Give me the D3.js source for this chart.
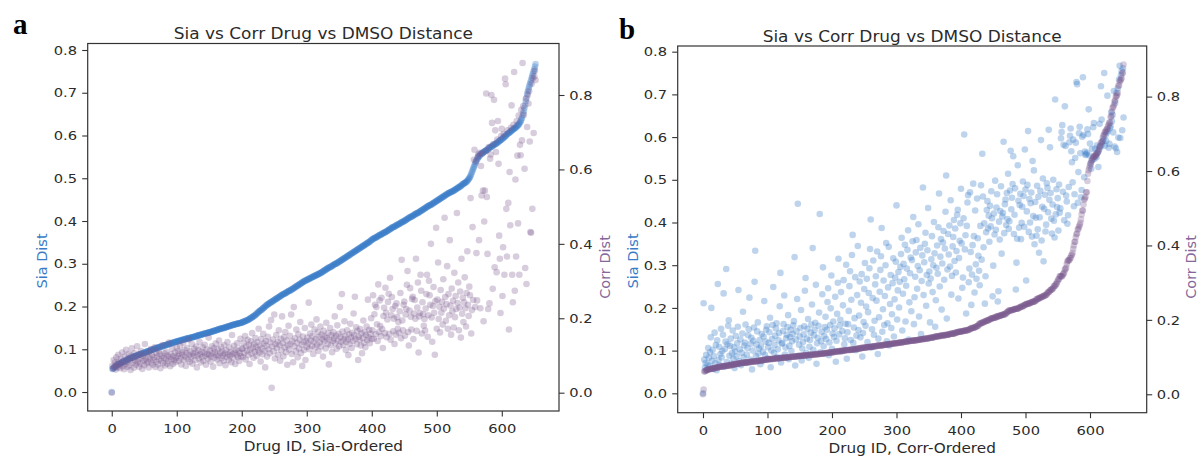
<!DOCTYPE html>
<html>
<head>
<meta charset="utf-8">
<script src="https://cdn.jsdelivr.net/npm/d3@7"></script>
<style>
body { margin: 0; background: #fff; }
svg { display: block; }
text { font-family: "DejaVu Sans", sans-serif; fill: #2b2b2b; }
</style>
</head>
<body>
<svg id="chart" width="1199" height="458"></svg>
<script>
// Sia distance of every drug, ranked by Sia distance (thousandths)
var siaSorted = [
0,54,55,56,57,59,60,61,62,64, 65,66,66,67,68,69,69,70,71,71, 72,73,74,75,76,76,77,78,79,79,
80,81,81,82,83,83,84,84,85,86, 86,87,87,88,88,89,90,90,91,91, 92,92,93,94,94,95,95,96,96,97,
98,98,99,99,100,100,101,102,102,103, 103,104,104,105,105,106,106,107,107,108,
108,109,109,110,110,111,111,112,112,113, 113,114,114,115,115,116,116,117,117,118,
118,118,119,119,120,120,121,121,122,122, 122,123,123,124,124,125,125,125,126,126,
126,127,127,128,128,128,129,129,130,130, 131,131,132,132,133,133,133,134,134,135,
135,136,136,137,137,137,138,138,139,139, 139,140,140,141,141,142,142,143,143,144,
144,145,145,146,146,147,147,148,148,149, 149,149,150,150,151,151,152,152,153,153,
154,154,155,155,156,156,157,157,158,158, 158,159,159,160,160,160,161,161,162,162,
162,163,164,164,165,166,166,167,168,168, 169,170,171,172,173,174,175,176,177,178,
179,180,182,183,185,186,187,189,190,191, 192,193,195,196,197,199,200,201,203,204,
205,206,207,208,209,210,211,212,213,214, 215,216,217,218,219,220,221,222,223,224,
225,226,227,228,229,230,230,231,232,233, 234,235,236,237,237,238,239,240,241,242,
243,244,245,246,247,248,249,250,251,252, 253,254,255,256,257,258,259,260,261,261,
262,263,264,264,265,266,267,268,268,269, 270,271,271,272,273,274,274,275,276,277,
277,278,279,280,281,282,283,284,285,286, 287,288,289,290,291,292,292,293,294,295,
296,297,298,299,300,300,301,302,303,304, 305,306,307,308,309,310,311,312,313,314,
315,316,317,318,319,320,321,322,323,324, 325,326,327,328,329,330,331,332,333,334,
335,336,337,338,339,340,341,342,343,344, 345,346,347,348,349,350,351,352,353,355,
356,357,358,359,360,361,361,362,363,364, 365,366,367,368,368,369,370,371,372,373,
373,374,375,376,377,378,379,380,381,382, 383,384,385,386,386,387,388,389,390,391,
392,392,393,394,395,396,397,398,398,399, 400,401,402,403,404,405,406,407,408,409,
410,410,411,412,413,414,415,416,417,418, 418,419,420,421,422,423,424,425,426,427,
428,429,430,431,432,433,434,435,436,437, 437,438,439,440,441,442,443,444,445,446,
447,448,449,450,451,452,453,454,455,456, 457,458,459,460,461,462,463,464,465,466,
466,467,468,469,469,470,471,472,473,474, 475,476,477,478,479,480,481,482,483,485,
486,487,488,489,490,491,492,494,496,498, 500,503,506,510,514,518,522,526,530,534,
538,541,544,547,549,551,553,555,557,558, 559,560,561,562,563,564,565,566,567,568,
570,571,572,573,574,575,576,577,578,579, 580,581,582,583,584,585,587,588,589,590,
591,593,594,595,597,598,599,601,603,604, 605,606,607,609,610,611,612,614,615,616,
617,618,620,621,623,624,626,628,631,633, 637,641,646,652,658,665,672,680,688,697,
703,708,714,719,724,729,735,740,745,750, 755,761,767
];

// Corr distance of the same drugs, in the same (Sia-ranked) order (thousandths)
var corrBySia = [
0,
72,65,88,70,81,62,95,76,68,102,84,74,66,91,79,108,71,86,63,98,
77,115,83,69,92,104,73,87,61,100,119,80,94,67,106,85,75,97,125,82,
89,70,103,78,112,93,64,99,86,74,131,90,105,79,84,96,68,109,92,117,
81,101,75,88,95,122,69,107,83,97,76,113,90,104,66,86,99,128,80,94,
106,73,91,110,78,100,85,135,96,71,103,89,118,77,98,87,108,82,94,121,
98,112,85,104,127,93,76,109,101,134,88,115,97,72,106,120,90,143,102,83,
111,95,131,78,105,99,118,87,108,124,68,100,114,92,137,103,81,110,96,122,
86,107,129,99,75,116,104,91,148,101,113,84,97,125,106,70,119,94,109,132,
102,89,117,98,140,79,107,123,93,111,100,86,128,105,74,114,96,136,103,88,
121,99,110,82,155,104,93,126,108,77,116,101,133,95,112,85,106,145,98,119,
118,96,134,107,152,89,125,113,142,101,129,77,116,138,105,160,121,94,131,110,
147,123,99,136,115,172,108,127,84,144,119,103,158,132,112,68,139,126,97,150,
117,178,106,135,195,13,124,143,111,210,92,130,155,120,137,102,168,128,86,145,
114,205,133,98,149,122,163,109,140,75,127,180,116,153,131,210,104,138,82,230,
125,146,111,170,134,95,157,119,142,190,107,129,72,151,136,115,174,88,139,123,
148,132,242,117,159,141,183,126,152,104,137,170,121,145,197,129,163,112,150,135,
178,124,156,143,97,166,138,151,119,188,147,131,160,76,142,174,127,155,109,139,
162,146,205,133,153,118,181,140,158,125,230,149,137,265,164,128,144,192,152,115,
136,168,143,101,157,131,185,148,120,161,139,213,154,258,145,176,130,166,88,150,
142,171,127,159,106,147,194,134,163,122,155,178,141,250,149,169,133,158,200,144,
168,262,145,211,236,157,230,184,139,291,163,248,179,152,255,171,120,206,228,160,
282,215,149,197,244,266,158,309,142,208,257,225,165,199,131,233,156,240,203,172,
190,161,219,268,146,357,194,168,236,245,153,210,225,290,327,163,127,221,281,204,
170,252,258,144,213,249,199,360,166,229,296,108,205,214,317,274,159,243,211,180,
198,167,226,265,317,150,208,301,262,236,400,202,137,233,284,215,102,246,443,172,
250,350,198,231,162,276,215,244,183,305,226,470,257,193,238,340,172,265,208,410,
234,156,280,219,247,175,322,203,260,225,483,241,296,168,229,272,148,360,212,255,
190,243,310,227,178,268,380,236,206,285,262,523,159,222,445,249,626,653,230,621,
375,248,635,640,410,645,227,609,530,642,543,192,460,543,650,804,526,373,225,660,
240,629,640,800,725,279,668,787,337,705,647,324,680,730,615,422,360,214,690,709,
260,391,695,317,844,829,494,366,705,510,170,593,450,712,772,317,243,720,862,274,
573,366,730,637,455,745,317,666,638,760,678,886,770,747,602,335,790,292,714,800,
777,810,675,432,430,830,494,845,698,850,865,840
];

var xTicks = [0, 100, 200, 300, 400, 500, 600];
var siaTicks = [0, 0.1, 0.2, 0.3, 0.4, 0.5, 0.6, 0.7, 0.8];
var corrTicks = [0, 0.2, 0.4, 0.6, 0.8];

var TITLE = "Sia vs Corr Drug vs DMSO Distance";
var SIA_COLOR = "#3a7bc8";
var CORR_COLOR = "#7b5b8d";
var STRETCH = "scale(1.13,1)";   // the reference is a little wider than tall

var drugs = siaSorted.map(function(s, i) {
    return {sia: s / 1000, corr: corrBySia[i] / 1000};
});
var bySia = drugs;
var byCorr = drugs.slice().sort(function(p, q) { return p.corr - q.corr; });

var panels = [
    {letter: "a", lx: 13, ly: 34, left: 87.7, right: 559, top: 43.5, bottom: 411,
     xDom: [-37, 688], siaDom: [-0.0444, 0.8152], corrDom: [-0.0492, 0.9384],
     titleY: 39.3, xlabel: "Drug ID, Sia-Ordered", rows: bySia,
     siaLabelX: 47, corrLabelX: 610},
    {letter: "b", lx: 619, ly: 39, left: 677.7, right: 1146.7, top: 46, bottom: 412.7,
     xDom: [-39.2, 687.9], siaDom: [-0.0454, 0.8133], corrDom: [-0.0495, 0.936],
     titleY: 41.7, xlabel: "Drug ID, Corr-Ordered", rows: byCorr,
     siaLabelX: 638, corrLabelX: 1196}
];

var svg = d3.select("#chart");

function styleAxis(g) {
    g.select(".domain").remove();
    g.selectAll(".tick line").attr("stroke", "#333").attr("stroke-width", 1.1);
    g.selectAll(".tick text").attr("font-size", 13).attr("fill", "#2b2b2b")
        .attr("transform", STRETCH);
}

panels.forEach(function(p) {
    var x = d3.scaleLinear().domain(p.xDom).range([p.left, p.right]);
    var ySia = d3.scaleLinear().domain(p.siaDom).range([p.bottom, p.top]);
    var yCorr = d3.scaleLinear().domain(p.corrDom).range([p.bottom, p.top]);
    var g = svg.append("g");

    // Sia on the left axis first, Corr on the twin axis drawn over it
    g.append("g").selectAll("circle").data(p.rows).enter().append("circle")
        .attr("cx", function(d, i) { return x(i); })
        .attr("cy", function(d) { return ySia(d.sia); })
        .attr("r", 3.3)
        .attr("fill", SIA_COLOR)
        .attr("fill-opacity", 0.33);
    g.append("g").selectAll("circle").data(p.rows).enter().append("circle")
        .attr("cx", function(d, i) { return x(i); })
        .attr("cy", function(d) { return yCorr(d.corr); })
        .attr("r", 3.3)
        .attr("fill", CORR_COLOR)
        .attr("fill-opacity", 0.3);

    g.append("rect")
        .attr("x", p.left).attr("y", p.top)
        .attr("width", p.right - p.left).attr("height", p.bottom - p.top)
        .attr("fill", "none").attr("stroke", "#333").attr("stroke-width", 1.2);

    g.append("g").attr("transform", "translate(0," + p.bottom + ")")
        .call(d3.axisBottom(x).tickValues(xTicks).tickSize(5.5).tickPadding(7.5))
        .call(styleAxis);
    g.append("g").attr("transform", "translate(" + p.left + ",0)")
        .call(d3.axisLeft(ySia).tickValues(siaTicks).tickFormat(d3.format(".1f"))
            .tickSize(5.5).tickPadding(4))
        .call(styleAxis);
    g.append("g").attr("transform", "translate(" + p.right + ",0)")
        .call(d3.axisRight(yCorr).tickValues(corrTicks).tickFormat(d3.format(".1f"))
            .tickSize(5.5).tickPadding(3.5))
        .call(styleAxis);

    var cx = (p.left + p.right) / 2;
    g.append("text")
        .attr("transform", "translate(" + cx + "," + p.titleY + ") " + STRETCH)
        .attr("text-anchor", "middle").attr("font-size", 15)
        .text(TITLE);
    g.append("text")
        .attr("transform", "translate(" + cx + "," + (p.bottom + 40) + ") " + STRETCH)
        .attr("text-anchor", "middle").attr("font-size", 13.5)
        .text(p.xlabel);
    g.append("text")
        .attr("transform", "translate(" + p.siaLabelX + ",261) rotate(-90)")
        .attr("text-anchor", "middle").attr("font-size", 14.5)
        .style("fill", SIA_COLOR)
        .text("Sia Dist");
    g.append("text")
        .attr("transform", "translate(" + p.corrLabelX + ",267) rotate(-90)")
        .attr("text-anchor", "middle").attr("font-size", 14.5)
        .style("fill", "#86679a")
        .text("Corr Dist");

    svg.append("text")
        .attr("x", p.lx).attr("y", p.ly)
        .style("font-family", "'Liberation Serif', 'DejaVu Serif', serif")
        .style("fill", "#000")
        .attr("font-weight", "bold").attr("font-size", 29)
        .text(p.letter);
});
</script>
</body>
</html>
